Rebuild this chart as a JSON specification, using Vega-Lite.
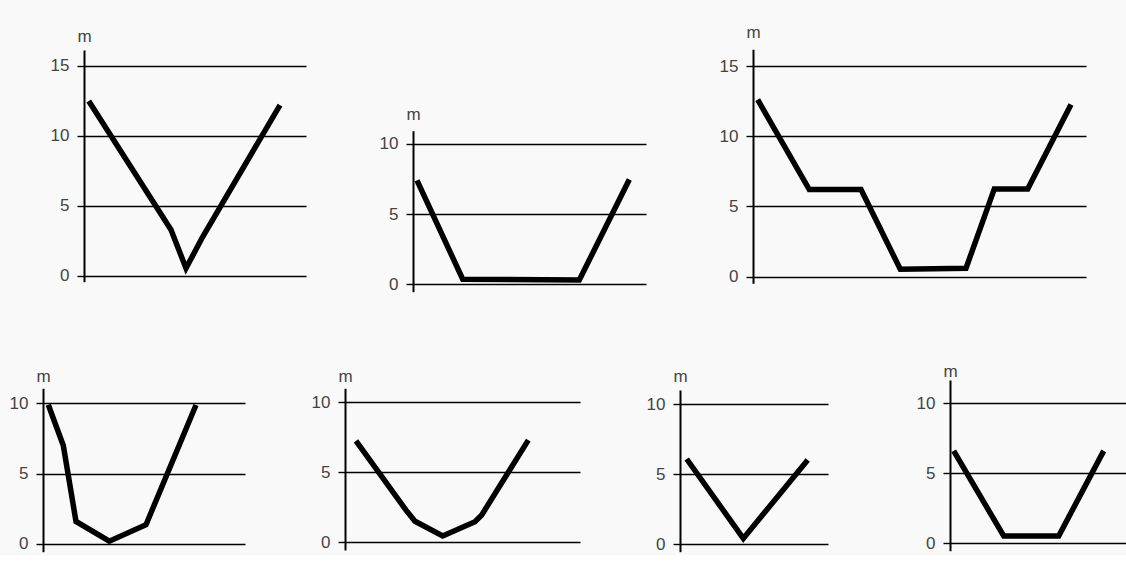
{
  "$schema": "https://vega.github.io/schema/vega-lite/v6.json",
  "background": "#f9f9f9",
  "padding": {"left": 9, "top": 23, "right": 0, "bottom": 0},
  "datasets": {
    "profiles": [
      {"panel": "p1", "x": 4.7, "depth": 12.5},
      {"panel": "p1", "x": 87, "depth": 3.3},
      {"panel": "p1", "x": 102, "depth": 0.55},
      {"panel": "p1", "x": 118.7, "depth": 2.8},
      {"panel": "p1", "x": 196, "depth": 12.2},
      {"panel": "p2", "x": 4, "depth": 7.4},
      {"panel": "p2", "x": 49.7, "depth": 0.36},
      {"panel": "p2", "x": 166.3, "depth": 0.3},
      {"panel": "p2", "x": 216.3, "depth": 7.45},
      {"panel": "p3", "x": 4.7, "depth": 12.6},
      {"panel": "p3", "x": 56.3, "depth": 6.2},
      {"panel": "p3", "x": 108, "depth": 6.2},
      {"panel": "p3", "x": 147.3, "depth": 0.53},
      {"panel": "p3", "x": 213, "depth": 0.6},
      {"panel": "p3", "x": 241.3, "depth": 6.25},
      {"panel": "p3", "x": 274.7, "depth": 6.25},
      {"panel": "p3", "x": 318, "depth": 12.26},
      {"panel": "p4", "x": 5.3, "depth": 9.9},
      {"panel": "p4", "x": 20.3, "depth": 7.0},
      {"panel": "p4", "x": 33, "depth": 1.6},
      {"panel": "p4", "x": 66.3, "depth": 0.2},
      {"panel": "p4", "x": 103, "depth": 1.37},
      {"panel": "p4", "x": 153, "depth": 9.88},
      {"panel": "p5", "x": 11, "depth": 7.24},
      {"panel": "p5", "x": 61, "depth": 2.3},
      {"panel": "p5", "x": 70, "depth": 1.5},
      {"panel": "p5", "x": 97.7, "depth": 0.45},
      {"panel": "p5", "x": 130, "depth": 1.47},
      {"panel": "p5", "x": 136.7, "depth": 1.95},
      {"panel": "p5", "x": 183.3, "depth": 7.3},
      {"panel": "p6", "x": 6.7, "depth": 6.07},
      {"panel": "p6", "x": 63.3, "depth": 0.4},
      {"panel": "p6", "x": 127.7, "depth": 6.0},
      {"panel": "p7", "x": 3.7, "depth": 6.6},
      {"panel": "p7", "x": 53.7, "depth": 0.52},
      {"panel": "p7", "x": 108.7, "depth": 0.52},
      {"panel": "p7", "x": 153.7, "depth": 6.6}
    ]
  },
  "spacing": 67,
  "center": true,
  "vconcat": [
    {
      "spacing": 107,
      "bounds": "flush",
      "hconcat": [
        {
          "width": 222, "height": 250,
          "data": {"name": "profiles"},
          "transform": [{"filter": "datum.panel == 'p1'"}],
          "mark": {"type": "line", "color": "#000", "strokeWidth": 5.5},
          "encoding": {
            "x": {"field": "x", "type": "quantitative", "scale": {"domain": [0, 222], "nice": false, "zero": false}, "axis": null},
            "y": {"field": "depth", "type": "quantitative", "scale": {"domain": [-0.41, 16.14], "range": [236.7, 5], "nice": false, "zero": false}, "axis": {"values": [0, 5, 10, 15], "title": "m", "titleY": -4}}
          }
        },
        {
          "width": 233, "height": 250,
          "data": {"name": "profiles"},
          "transform": [{"filter": "datum.panel == 'p2'"}],
          "mark": {"type": "line", "color": "#000", "strokeWidth": 5.5},
          "encoding": {
            "x": {"field": "x", "type": "quantitative", "scale": {"domain": [0, 233], "nice": false, "zero": false}, "axis": null},
            "y": {"field": "depth", "type": "quantitative", "scale": {"domain": [-0.53, 10.93], "range": [246.7, 85.7], "nice": false, "zero": false}, "axis": {"values": [0, 5, 10], "title": "m", "titleY": 74}}
          }
        },
        {
          "width": 333, "height": 250,
          "data": {"name": "profiles"},
          "transform": [{"filter": "datum.panel == 'p3'"}],
          "mark": {"type": "line", "color": "#000", "strokeWidth": 5.5},
          "encoding": {
            "x": {"field": "x", "type": "quantitative", "scale": {"domain": [0, 333], "nice": false, "zero": false}, "axis": null},
            "y": {"field": "depth", "type": "quantitative", "scale": {"domain": [-0.47, 16.19], "range": [238.3, 4.3], "nice": false, "zero": false}, "axis": {"values": [0, 5, 10, 15], "title": "m", "titleY": -8}}
          }
        }
      ]
    },
    {
      "spacing": 88,
      "hconcat": [
        {
          "spacing": 100,
          "bounds": "flush",
          "hconcat": [
            {
              "width": 202, "height": 185,
              "data": {"name": "profiles"},
              "transform": [{"filter": "datum.panel == 'p4'"}],
              "mark": {"type": "line", "color": "#000", "strokeWidth": 5.5},
              "encoding": {
                "x": {"field": "x", "type": "quantitative", "scale": {"domain": [0, 202], "nice": false, "zero": false}, "axis": null},
                "y": {"field": "depth", "type": "quantitative", "scale": {"domain": [-0.55, 11.07], "range": [181.7, 18.3], "nice": false, "zero": false}, "axis": {"values": [0, 5, 10], "title": "m", "titleY": 11}}
              }
            },
            {
              "width": 235, "height": 185,
              "data": {"name": "profiles"},
              "transform": [{"filter": "datum.panel == 'p5'"}],
              "mark": {"type": "line", "color": "#000", "strokeWidth": 5.5},
              "encoding": {
                "x": {"field": "x", "type": "quantitative", "scale": {"domain": [0, 235], "nice": false, "zero": false}, "axis": null},
                "y": {"field": "depth", "type": "quantitative", "scale": {"domain": [-0.55, 11.0], "range": [180, 18.3], "nice": false, "zero": false}, "axis": {"values": [0, 5, 10], "title": "m", "titleY": 11}}
              }
            },
            {
              "width": 148, "height": 185,
              "data": {"name": "profiles"},
              "transform": [{"filter": "datum.panel == 'p6'"}],
              "mark": {"type": "line", "color": "#000", "strokeWidth": 5.5},
              "encoding": {
                "x": {"field": "x", "type": "quantitative", "scale": {"domain": [0, 148], "nice": false, "zero": false}, "axis": null},
                "y": {"field": "depth", "type": "quantitative", "scale": {"domain": [-0.55, 11.0], "range": [181.7, 20], "nice": false, "zero": false}, "axis": {"values": [0, 5, 10], "title": "m", "titleY": 11}}
              }
            }
          ]
        },
        {
          "width": 177, "height": 185,
          "data": {"name": "profiles"},
          "transform": [{"filter": "datum.panel == 'p7'"}],
          "mark": {"type": "line", "color": "#000", "strokeWidth": 5.5},
          "encoding": {
            "x": {"field": "x", "type": "quantitative", "scale": {"domain": [0, 177], "nice": false, "zero": false}, "axis": null},
            "y": {"field": "depth", "type": "quantitative", "scale": {"domain": [-0.53, 11.66], "range": [180.7, 10], "nice": false, "zero": false}, "axis": {"values": [0, 5, 10], "title": "m", "titleY": 6}}
          }
        }
      ]
    }
  ],
  "config": {
    "view": {"stroke": null},
    "axis": {
      "grid": true,
      "gridColor": "#000",
      "gridWidth": 1.4,
      "gridOpacity": 1,
      "domainColor": "#000",
      "domainWidth": 2,
      "tickColor": "#000",
      "tickWidth": 1.4,
      "tickSize": 7,
      "labelPadding": 8,
      "labelFont": "Liberation Sans",
      "labelFontSize": 17,
      "labelColor": "#444",
      "titleFont": "Liberation Sans",
      "titleFontSize": 17,
      "titleFontWeight": "normal",
      "titleColor": "#444",
      "titleAngle": 0,
      "titleAlign": "center",
      "titleBaseline": "alphabetic",
      "titleX": 0,
      "titlePadding": 0
    },
    "axisY": {
      "labelFontSize": 17,
      "titleFontSize": 17
    }
  }
}
